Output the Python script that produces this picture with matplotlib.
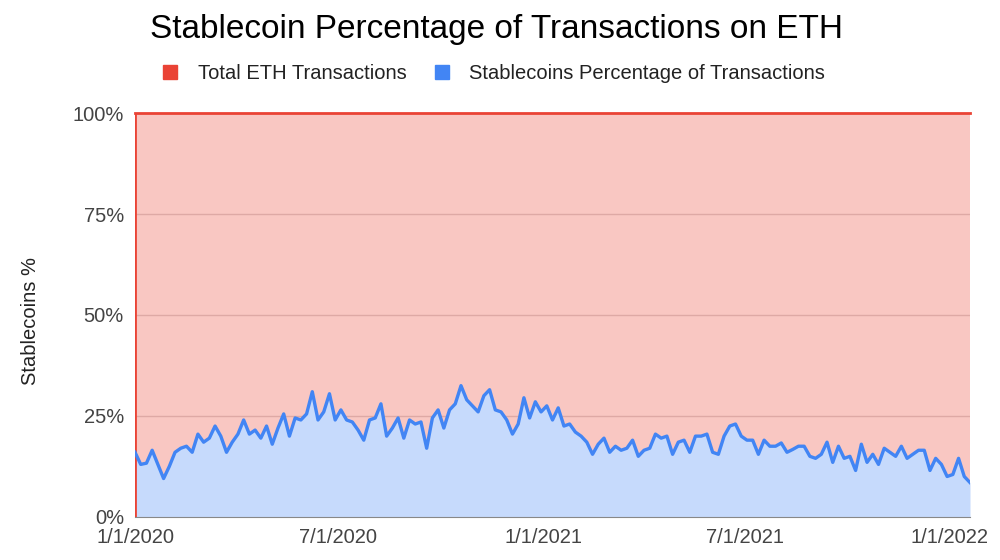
## imports
import numpy as np
import pandas as pd
import matplotlib
matplotlib.use("Agg")
import matplotlib.pyplot as plt
from matplotlib.patches import Patch

plt.rcParams['font.family'] = ['Liberation Sans', 'DejaVu Sans']

## data (evenly spaced samples from 1/1/2020 to the right edge)
stable_pct = [
    16, 13, 13.3, 16.5, 13, 9.5, 12.5, 16, 17, 17.5,
    16, 20.5, 18.5, 19.5, 22.5, 20, 16, 18.5, 20.5, 24,
    20.5, 21.5, 19.5, 22.5, 18, 22, 25.5, 20, 24.5, 24,
    25.5, 31, 24, 26, 30.5, 24, 26.5, 24, 23.5, 21.5,
    19, 24, 24.5, 28, 20, 22, 24.5, 19.5, 24, 23,
    23.5, 17, 24.5, 26.5, 22, 26.5, 28, 32.5, 29, 27.5,
    26, 30, 31.5, 26.5, 26, 24, 20.5, 23, 29.5, 24.5,
    28.5, 26, 27.5, 24, 27, 22.5, 23, 21, 20, 18.5,
    15.5, 18, 19.5, 16, 17.5, 16.5, 17, 19, 15, 16.5,
    17, 20.5, 19.5, 20, 15.5, 18.5, 19, 16, 20, 20,
    20.5, 16, 15.5, 20, 22.5, 23, 20, 19, 19, 15.5,
    19, 17.5, 17.5, 18.3, 16, 16.7, 17.5, 17.5, 15, 14.5,
    15.5, 18.5, 13.5, 17.5, 14.5, 15, 11.5, 18, 13.5, 15.5,
    13, 17, 16, 15, 17.5, 14.5, 15.5, 16.5, 16.5, 11.5,
    14.5, 13, 10, 10.5, 14.5, 10, 8.5,
]
total_pct = [100] * len(stable_pct)
start_date = '2020-01-01'
end_date = '2022-01-19'
dates = pd.date_range(start_date, end_date, periods=len(stable_pct))

tick_dates = pd.to_datetime(['2020-01-01', '2020-07-01', '2021-01-01', '2021-07-01', '2022-01-01'])
tick_labels = ['1/1/2020', '7/1/2020', '1/1/2021', '7/1/2021', '1/1/2022']
y_ticks = [0, 25, 50, 75, 100]
y_labels = ['0%', '25%', '50%', '75%', '100%']

red = '#ea4335'
blue = '#4285f4'

## plot
fig = plt.figure(figsize=(10, 5.6), dpi=100)
ax = fig.add_axes([0.135, 0.077, 0.835, 0.721])

# red "total" area and its outline
ax.fill_between(dates, 0, total_pct, color='#f9c7c2', zorder=1, linewidth=0)
ax.plot(dates, total_pct, color=red, lw=2, zorder=4, clip_on=False)
ax.vlines(dates[0], 0, 100, color=red, lw=2, zorder=4)

# gridlines sit between the two areas
for yv in y_ticks[1:-1]:
    ax.axhline(yv, color='#dea9a5', lw=1, zorder=2)

# blue stablecoin area
ax.fill_between(dates, 0, stable_pct, color='#c6dafc', zorder=3, linewidth=0)
ax.plot(dates, stable_pct, color=blue, lw=2.4, zorder=4)

ax.set_xlim(pd.Timestamp(start_date), pd.Timestamp(end_date))
ax.set_ylim(0, 100)
ax.set_xticks(tick_dates)
ax.set_xticklabels(tick_labels)
ax.set_yticks(y_ticks)
ax.set_yticklabels(y_labels)
ax.tick_params(length=0, labelsize=14.5, colors='#444444')
ax.tick_params(axis='y', pad=8)
ax.tick_params(axis='x', pad=8)

for side in ['top', 'right', 'left']:
    ax.spines[side].set_visible(False)
ax.spines['bottom'].set_color('#888888')
ax.spines['bottom'].set_zorder(5)

fig.text(0.030, 1 - 321 / 560, 'Stablecoins %', rotation=90, ha='center', va='center',
         fontsize=14.5, color='#222222')

fig.text(0.496, 0.948, 'Stablecoin Percentage of Transactions on ETH',
         ha='center', va='center', fontsize=24, color='#000000')

handles = [Patch(color=red), Patch(color=blue)]
fig.legend(handles, ['Total ETH Transactions', 'Stablecoins Percentage of Transactions'],
           loc='center', bbox_to_anchor=(0.494, 0.869), ncol=2, frameon=False,
           fontsize=14.5, handlelength=0.7, handleheight=0.7, columnspacing=1.4,
           handletextpad=1.0, labelcolor='#222222')

fig.savefig('out.png', dpi=100)
